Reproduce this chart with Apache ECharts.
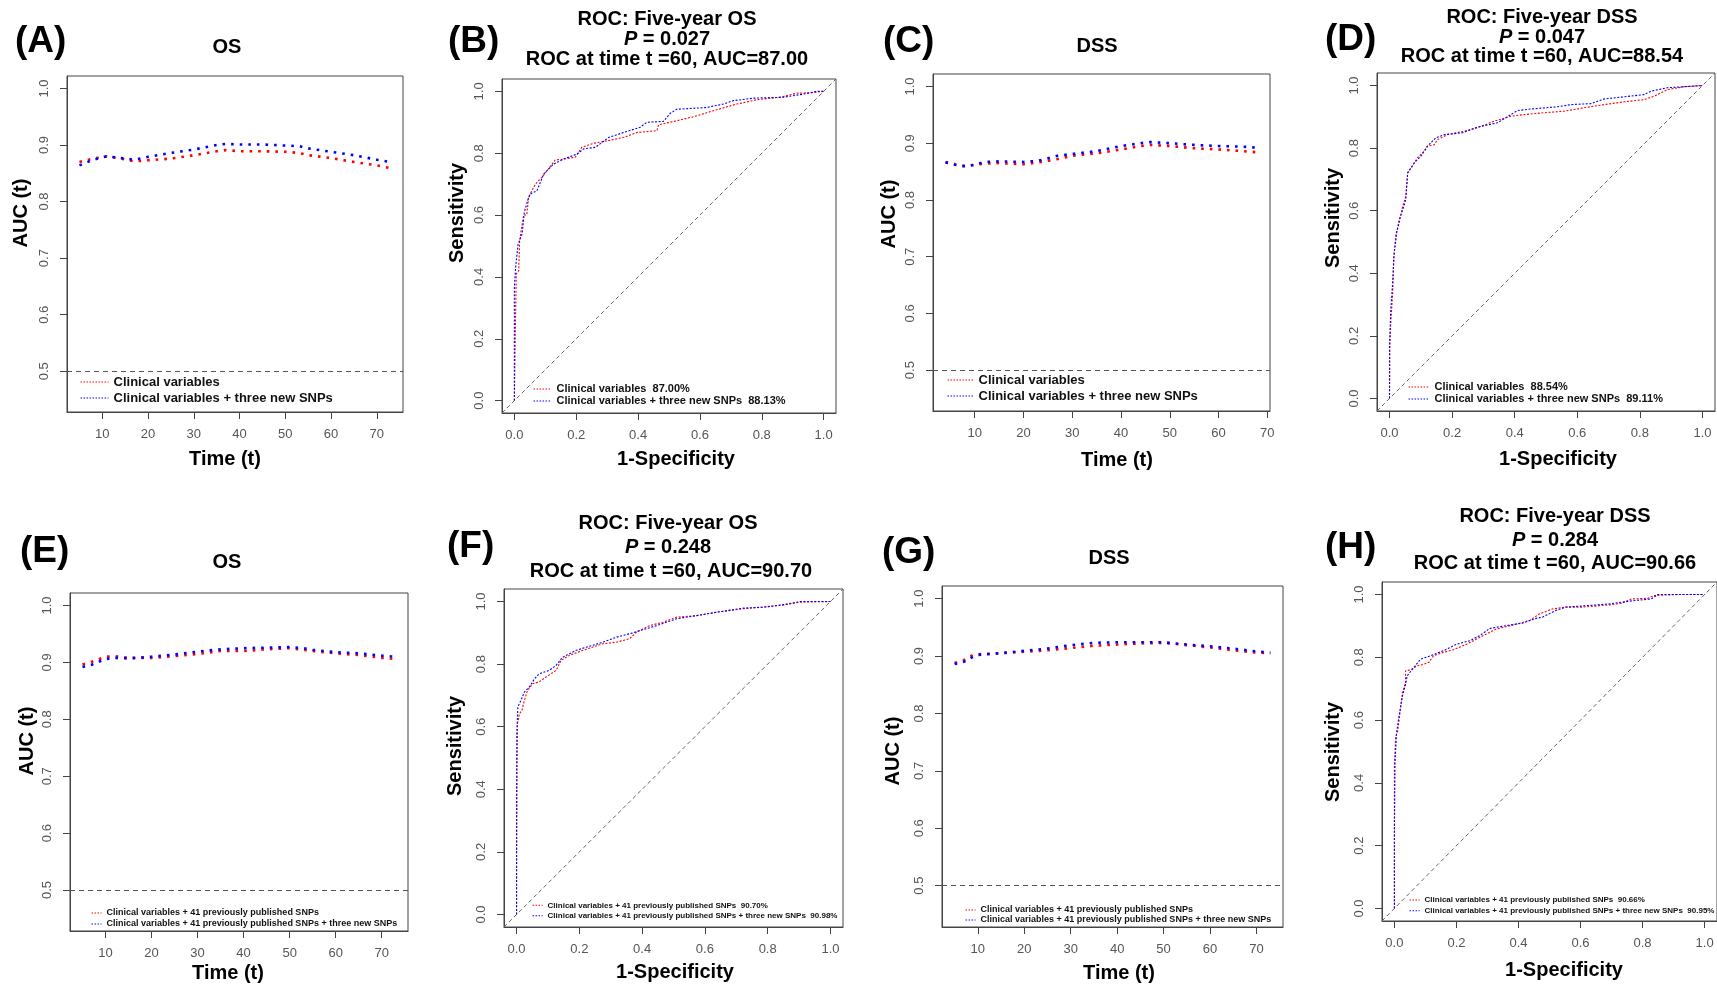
<!DOCTYPE html>
<html>
<head>
<meta charset="utf-8">
<script src="https://cdn.jsdelivr.net/npm/echarts@6/dist/echarts.min.js"></script>
<style>html,body{margin:0;padding:0;background:#fff;}#c{width:1717px;height:984px;}</style>
</head>
<body>
<div id="c"></div>
<script>
// ---------------- DATA ----------------
const timeTicks = [10, 20, 30, 40, 50, 60, 70];
const aucTicks = [0.5, 0.6, 0.7, 0.8, 0.9, 1.0];
const rocTicks = [0, 0.2, 0.4, 0.6, 0.8, 1.0];
const refAUC = 0.5;

// Panel A (OS, clinical vs +3 SNPs)
const timeA = [5, 8, 11, 14, 17, 20, 25, 30, 35, 37, 40, 45, 50, 53, 55, 60, 65, 70, 73];
const aucA_clin = [0.870, 0.876, 0.880, 0.876, 0.871, 0.873, 0.876, 0.882, 0.889, 0.891, 0.889, 0.889, 0.888, 0.886, 0.882, 0.877, 0.870, 0.864, 0.859];
const aucA_snp  = [0.864, 0.874, 0.880, 0.877, 0.874, 0.879, 0.886, 0.892, 0.900, 0.902, 0.901, 0.901, 0.899, 0.898, 0.894, 0.888, 0.882, 0.874, 0.870];

// Panel C (DSS)
const timeC = [4, 6, 8, 10, 12, 15, 20, 23, 27, 30, 35, 40, 44, 46, 50, 55, 60, 65, 68];
const aucC_clin = [0.867, 0.863, 0.860, 0.862, 0.864, 0.865, 0.863, 0.866, 0.872, 0.878, 0.882, 0.889, 0.895, 0.897, 0.895, 0.891, 0.889, 0.886, 0.884];
const aucC_snp  = [0.866, 0.862, 0.859, 0.862, 0.867, 0.868, 0.867, 0.869, 0.878, 0.881, 0.886, 0.895, 0.900, 0.902, 0.900, 0.897, 0.895, 0.894, 0.892];

// Panel E (OS, +41 SNPs)
const timeE = [5, 7, 10, 12, 15, 20, 25, 30, 35, 40, 45, 50, 53, 55, 60, 65, 70, 73];
const aucE_41  = [0.8965, 0.901, 0.910, 0.911, 0.908, 0.908, 0.911, 0.915, 0.920, 0.920, 0.923, 0.925, 0.922, 0.920, 0.916, 0.913, 0.908, 0.906];
const aucE_44  = [0.892, 0.896, 0.906, 0.908, 0.907, 0.910, 0.914, 0.919, 0.923, 0.925, 0.926, 0.927, 0.925, 0.922, 0.918, 0.916, 0.912, 0.910];

// Panel G (DSS, +41 SNPs)
const timeG = [5, 7, 9, 10, 15, 20, 25, 30, 35, 40, 45, 50, 55, 60, 65, 70, 73];
const aucG_41 = [0.888, 0.893, 0.902, 0.903, 0.905, 0.9075, 0.910, 0.914, 0.918, 0.920, 0.922, 0.923, 0.919, 0.915, 0.910, 0.906, 0.905];
const aucG_44 = [0.886, 0.890, 0.899, 0.902, 0.905, 0.909, 0.913, 0.919, 0.923, 0.924, 0.924, 0.924, 0.920, 0.917, 0.913, 0.908, 0.906];

// Panel B ROC (OS, t=60)
const fprB_clin = [0, 0.003, 0.006, 0.014, 0.017, 0.03, 0.04, 0.046, 0.062, 0.073, 0.089, 0.11, 0.132, 0.159, 0.197, 0.218, 0.256, 0.299, 0.353, 0.396, 0.461, 0.466, 0.525, 0.579, 0.644, 0.719, 0.784, 0.859, 0.913, 0.967, 1];
const tprB_clin = [0, 0.215, 0.41, 0.42, 0.517, 0.60, 0.60, 0.657, 0.69, 0.706, 0.722, 0.749, 0.778, 0.781, 0.787, 0.819, 0.832, 0.84, 0.851, 0.867, 0.873, 0.892, 0.905, 0.918, 0.9375, 0.959, 0.973, 0.981, 0.994, 0.996, 1];
const fprB_snp = [0, 0, 0.004, 0.012, 0.025, 0.032, 0.046, 0.052, 0.073, 0.095, 0.127, 0.159, 0.202, 0.224, 0.262, 0.305, 0.353, 0.407, 0.428, 0.482, 0.504, 0.525, 0.622, 0.676, 0.708, 0.773, 0.87, 0.934, 0.977, 1];
const tprB_snp = [0, 0.366, 0.431, 0.506, 0.539, 0.609, 0.657, 0.668, 0.679, 0.733, 0.765, 0.781, 0.797, 0.814, 0.819, 0.851, 0.867, 0.884, 0.90, 0.903, 0.929, 0.942, 0.948, 0.959, 0.97, 0.978, 0.981, 0.991, 1.0, 1];

// Panel D ROC (DSS, t=60)
const fprD_clin = [0, 0.001, 0.004, 0.01, 0.013, 0.02, 0.031, 0.042, 0.052, 0.058, 0.073, 0.089, 0.111, 0.121, 0.143, 0.153, 0.185, 0.239, 0.281, 0.334, 0.388, 0.43, 0.494, 0.558, 0.622, 0.686, 0.75, 0.814, 0.846, 0.888, 0.941, 1];
const tprD_clin = [0, 0.166, 0.241, 0.337, 0.443, 0.523, 0.561, 0.614, 0.646, 0.721, 0.742, 0.769, 0.79, 0.806, 0.811, 0.827, 0.843, 0.854, 0.865, 0.886, 0.902, 0.907, 0.913, 0.918, 0.929, 0.939, 0.948, 0.955, 0.966, 0.987, 0.996, 1];
const fprD_snp = [0, 0, 0.004, 0.01, 0.015, 0.023, 0.031, 0.042, 0.052, 0.058, 0.079, 0.1, 0.121, 0.148, 0.175, 0.233, 0.281, 0.345, 0.409, 0.452, 0.537, 0.579, 0.643, 0.686, 0.75, 0.814, 0.835, 0.888, 1];
const tprD_snp = [0, 0.166, 0.284, 0.369, 0.465, 0.529, 0.571, 0.603, 0.635, 0.721, 0.753, 0.774, 0.806, 0.833, 0.843, 0.849, 0.867, 0.881, 0.92, 0.925, 0.932, 0.939, 0.942, 0.957, 0.964, 0.971, 0.982, 0.993, 1];

// Panel F ROC (OS, +41 SNPs)
const fprF_41 = [0, 0, 0.001, 0.003, 0.009, 0.017, 0.025, 0.035, 0.051, 0.072, 0.094, 0.126, 0.142, 0.168, 0.211, 0.275, 0.318, 0.36, 0.382, 0.424, 0.467, 0.51, 0.574, 0.638, 0.723, 0.787, 0.851, 0.904, 1];
const tprF_41 = [0, 0.099, 0.471, 0.61, 0.641, 0.652, 0.684, 0.716, 0.737, 0.743, 0.759, 0.78, 0.812, 0.828, 0.844, 0.865, 0.87, 0.881, 0.902, 0.923, 0.934, 0.95, 0.955, 0.966, 0.977, 0.982, 0.989, 0.998, 1];
const fprF_44 = [0, 0, 0.001, 0.004, 0.014, 0.025, 0.041, 0.057, 0.072, 0.104, 0.126, 0.147, 0.19, 0.222, 0.275, 0.318, 0.36, 0.403, 0.446, 0.51, 0.574, 0.638, 0.723, 0.787, 0.851, 0.904, 1];
const tprF_44 = [0, 0.205, 0.578, 0.663, 0.684, 0.711, 0.727, 0.753, 0.769, 0.78, 0.796, 0.822, 0.844, 0.854, 0.87, 0.886, 0.897, 0.91, 0.923, 0.945, 0.955, 0.966, 0.979, 0.982, 0.99, 1, 1];

// Panel H ROC (DSS, +41 SNPs)
const fprH_41 = [0, 0, 0.004, 0.01, 0.018, 0.026, 0.036, 0.036, 0.052, 0.073, 0.095, 0.111, 0.126, 0.158, 0.19, 0.233, 0.286, 0.328, 0.382, 0.435, 0.467, 0.509, 0.552, 0.605, 0.69, 0.732, 0.764, 0.817, 0.838, 0.913, 1];
const tprH_41 = [0, 0.453, 0.549, 0.56, 0.624, 0.688, 0.72, 0.757, 0.76, 0.773, 0.778, 0.784, 0.805, 0.816, 0.824, 0.842, 0.869, 0.89, 0.903, 0.917, 0.938, 0.954, 0.96, 0.96, 0.967, 0.972, 0.986, 0.988, 0.997, 1, 1];
const fprH_44 = [0, 0, 0.002, 0.007, 0.015, 0.026, 0.036, 0.041, 0.063, 0.084, 0.116, 0.158, 0.201, 0.243, 0.275, 0.307, 0.36, 0.413, 0.456, 0.477, 0.52, 0.552, 0.626, 0.69, 0.775, 0.828, 0.849, 1];
const tprH_44 = [0, 0.24, 0.464, 0.56, 0.613, 0.677, 0.714, 0.741, 0.768, 0.794, 0.805, 0.821, 0.842, 0.853, 0.869, 0.892, 0.901, 0.909, 0.924, 0.928, 0.949, 0.96, 0.965, 0.97, 0.981, 0.986, 1, 1];

// Series labels
const nClin = 'Clinical variables';
const nSnp = 'Clinical variables + three new SNPs';
const n41 = 'Clinical variables + 41 previously published SNPs';
const n44 = 'Clinical variables + 41 previously published SNPs + three new SNPs';

// ---------------- LAYOUT / STYLE ----------------
const FONT = "'Liberation Sans', Arial, Helvetica, sans-serif";
const RED = '#ff0000', BLUE = '#0000ff';
const zip = (xs, ys) => xs.map((x, k) => [x, ys[k]]);

const panels = [
  { kind: 'time', grid: {left: 67, top: 76, width: 336, height: 336}, xr: [2.28, 75.72],
    s: [[nClin, zip(timeA, aucA_clin)], [nSnp, zip(timeA, aucA_snp)]],
    lg: {left: 80, top: 375, iw: 28, fs: 13, lh: 14, gap: 2} },
  { kind: 'roc', grid: {left: 502, top: 79, width: 334, height: 334},
    s: [[nClin + '  87.00%', zip(fprB_clin, tprB_clin)], [nSnp + '  88.13%', zip(fprB_snp, tprB_snp)]],
    lg: {left: 533, top: 383.5, iw: 18, fs: 11, lh: 11, gap: 1} },
  { kind: 'time', grid: {left: 933, top: 74, width: 337, height: 337}, xr: [1.44, 70.56],
    s: [[nClin, zip(timeC, aucC_clin)], [nSnp, zip(timeC, aucC_snp)]],
    lg: {left: 947, top: 373, iw: 26, fs: 13, lh: 14, gap: 2} },
  { kind: 'roc', grid: {left: 1377, top: 73, width: 338, height: 338},
    s: [[nClin + '  88.54%', zip(fprD_clin, tprD_clin)], [nSnp + '  89.11%', zip(fprD_snp, tprD_snp)]],
    lg: {left: 1408, top: 381.5, iw: 21, fs: 11, lh: 11, gap: 1} },
  { kind: 'time', grid: {left: 70, top: 593, width: 338, height: 338}, xr: [2.28, 75.72],
    s: [[n41, zip(timeE, aucE_41)], [n44, zip(timeE, aucE_44)]],
    lg: {left: 91, top: 908.5, iw: 10, fs: 9, lh: 9, gap: 2} },
  { kind: 'roc', grid: {left: 504, top: 589, width: 339, height: 338},
    s: [[n41 + '  90.70%', zip(fprF_41, tprF_41)], [n44 + '  90.98%', zip(fprF_44, tprF_44)]],
    lg: {left: 532, top: 901.3, iw: 10, fs: 8, lh: 8, gap: 2.4} },
  { kind: 'time', grid: {left: 942, top: 586, width: 341, height: 341}, xr: [2.28, 75.72],
    s: [[n41, zip(timeG, aucG_41)], [n44, zip(timeG, aucG_44)]],
    lg: {left: 965, top: 905.5, iw: 10, fs: 9, lh: 9, gap: 1} },
  { kind: 'roc', grid: {left: 1382, top: 582, width: 339, height: 339},
    s: [[n41 + '  90.66%', zip(fprH_41, tprH_41)], [n44 + '  90.95%', zip(fprH_44, tprH_44)]],
    lg: {left: 1409, top: 896, iw: 10, fs: 8, lh: 8, gap: 2.7} }
];

const ROC_R = [-0.04, 1.04];
const AUC_R = [0.428, 1.022];
const AX = '#444';
const LBL = '#555';

function axisCommon(ticks, fmt, rotate) {
  return {
    type: 'value',
    axisLine: {show: true, onZero: false, lineStyle: {color: AX, width: 1}},
    axisTick: {show: true, inside: false, length: 7, customValues: ticks, lineStyle: {color: AX}},
    axisLabel: {customValues: ticks, formatter: fmt, margin: 16, fontSize: 13, color: LBL,
                fontFamily: FONT, rotate: rotate || 0},
    splitLine: {show: false}
  };
}

const grids = [], xAxes = [], yAxes = [], series = [], legends = [];
panels.forEach((p, i) => {
  grids.push(Object.assign({show: true, borderColor: AX, borderWidth: 1, backgroundColor: 'transparent'}, p.grid));
  if (p.kind === 'time') {
    xAxes.push(Object.assign(axisCommon(timeTicks, v => String(Math.round(v))), {gridIndex: i, min: p.xr[0], max: p.xr[1]}));
    yAxes.push(Object.assign(axisCommon(aucTicks, v => v.toFixed(1), 90), {gridIndex: i, min: AUC_R[0], max: AUC_R[1]}));
  } else {
    xAxes.push(Object.assign(axisCommon(rocTicks, v => v.toFixed(1)), {gridIndex: i, min: ROC_R[0], max: ROC_R[1]}));
    yAxes.push(Object.assign(axisCommon(rocTicks, v => v.toFixed(1), 90), {gridIndex: i, min: ROC_R[0], max: ROC_R[1]}));
  }
  const isTime = p.kind === 'time';
  p.s.forEach((sd, k) => {
    const ser = {
      type: 'line', name: sd[0], xAxisIndex: i, yAxisIndex: i, data: sd[1],
      symbol: 'none', smooth: false, silent: true, z: 3 + k,
      lineStyle: isTime ? {color: k === 0 ? RED : BLUE, width: 2.6, type: [2.6, 6], cap: 'butt'}
                        : {color: k === 0 ? RED : BLUE, width: 1.1, type: [2, 1.6], cap: 'butt'},
      itemStyle: {color: k === 0 ? RED : BLUE}
    };
    if (k === 0) {
      ser.markLine = isTime ? {
        silent: true, symbol: ['none', 'none'], label: {show: false}, animation: false,
        lineStyle: {color: '#555', width: 1, type: [5, 4]},
        data: [{yAxis: refAUC}]
      } : {
        silent: true, symbol: ['none', 'none'], label: {show: false}, animation: false,
        lineStyle: {color: '#666', width: 1, type: [4, 3]},
        data: [[{coord: [ROC_R[0], ROC_R[0]]}, {coord: [ROC_R[1], ROC_R[1]]}]]
      };
    }
    series.push(ser);
  });
  legends.push({
    orient: 'vertical', left: p.lg.left, top: p.lg.top, padding: 0,
    itemWidth: p.lg.iw, itemHeight: 2, itemGap: p.lg.gap, selectedMode: false,
    data: p.s.map(sd => sd[0]),
    itemStyle: {opacity: 0, borderWidth: 0},
    lineStyle: {width: 1.1, type: [1.5, 1.5], opacity: 1},
    textStyle: {fontSize: p.lg.fs, lineHeight: p.lg.lh, fontWeight: 'bold', color: '#111', fontFamily: FONT}
  });
});

// text annotations
function txt(x, y, text, size, opts) {
  opts = opts || {};
  return {
    type: 'text', x: x, y: y, rotation: opts.rot || 0, silent: true, z: 10,
    style: {text: text, fontSize: size, fontWeight: 'bold', fontFamily: FONT, fill: '#000',
            align: opts.align || 'center', verticalAlign: 'middle', rich: opts.rich}
  };
}
const italicP = s => ({i: {fontStyle: 'italic', fontWeight: 'bold', fontSize: s, fontFamily: FONT, fill: '#000'},
                      n: {fontWeight: 'bold', fontSize: s, fontFamily: FONT, fill: '#000'}});
const R90 = Math.PI / 2;
const graphics = [
  txt(15, 42, '(A)', 37, {align: 'left'}),
  txt(448, 42, '(B)', 37, {align: 'left'}),
  txt(883, 42, '(C)', 37, {align: 'left'}),
  txt(1325, 40, '(D)', 37, {align: 'left'}),
  txt(20, 552, '(E)', 37, {align: 'left'}),
  txt(447, 547, '(F)', 37, {align: 'left'}),
  txt(882, 553, '(G)', 37, {align: 'left'}),
  txt(1325, 548, '(H)', 37, {align: 'left'}),

  txt(227, 47, 'OS', 20),
  txt(1097, 46, 'DSS', 20),
  txt(227, 562, 'OS', 20),
  txt(1109, 558, 'DSS', 20),

  txt(667, 19, 'ROC: Five-year OS', 20),
  txt(667, 39, '{i|P}{n| = 0.027}', 20, {rich: italicP(20)}),
  txt(667, 59, 'ROC at time t =60, AUC=87.00', 20),
  txt(1542, 17, 'ROC: Five-year DSS', 20),
  txt(1542, 37, '{i|P}{n| = 0.047}', 20, {rich: italicP(20)}),
  txt(1542, 56, 'ROC at time t =60, AUC=88.54', 20),
  txt(668, 523, 'ROC: Five-year OS', 20),
  txt(668, 547, '{i|P}{n| = 0.248}', 20, {rich: italicP(20)}),
  txt(671, 571, 'ROC at time t =60, AUC=90.70', 20),
  txt(1555, 516, 'ROC: Five-year DSS', 20),
  txt(1555, 540, '{i|P}{n| = 0.284}', 20, {rich: italicP(20)}),
  txt(1555, 563, 'ROC at time t =60, AUC=90.66', 20),

  txt(225, 459, 'Time (t)', 20),
  txt(21, 213, 'AUC (t)', 20, {rot: R90}),
  txt(676, 459, '1-Specificity', 20),
  txt(457, 213, 'Sensitivity', 20, {rot: R90}),
  txt(1117, 460, 'Time (t)', 20),
  txt(889, 214, 'AUC (t)', 20, {rot: R90}),
  txt(1558, 459, '1-Specificity', 20),
  txt(1333, 218, 'Sensitivity', 20, {rot: R90}),
  txt(228, 973, 'Time (t)', 20),
  txt(27, 741, 'AUC (t)', 20, {rot: R90}),
  txt(675, 972, '1-Specificity', 20),
  txt(455, 746, 'Sensitivity', 20, {rot: R90}),
  txt(1119, 973, 'Time (t)', 20),
  txt(893, 751, 'AUC (t)', 20, {rot: R90}),
  txt(1564, 970, '1-Specificity', 20),
  txt(1333, 752, 'Sensitivity', 20, {rot: R90})
];

const chart = echarts.init(document.getElementById('c'), null, {renderer: 'canvas'});
chart.setOption({
  backgroundColor: '#fff',
  animation: false,
  textStyle: {fontFamily: FONT},
  grid: grids, xAxis: xAxes, yAxis: yAxes, series: series, legend: legends,
  graphic: graphics
});
</script>
</body>
</html>
